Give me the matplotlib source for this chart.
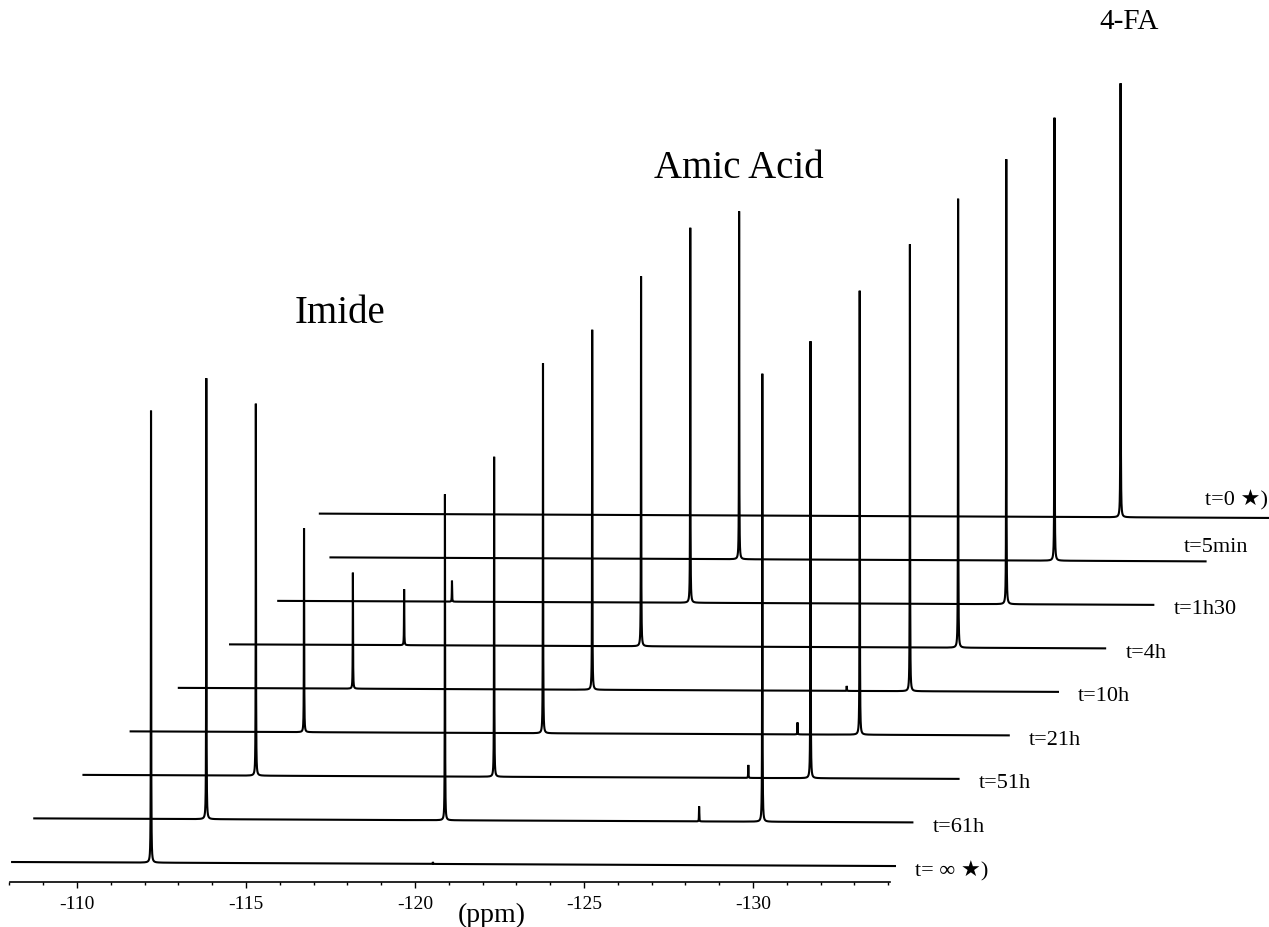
import numpy as np
import matplotlib.pyplot as plt

plt.rcParams['font.family'] = ['Liberation Serif', 'DejaVu Sans']
plt.rcParams['axes.unicode_minus'] = False

# stacked 19F spectra, bottom (t=inf) to top (t=0)
labels = ['t= \u221e \u2605)', 't=61h', 't=51h', 't=21h', 't=10h',
          't=4h', 't=1h30', 't=5min', 't=0 \u2605)']

# ppm window of each trace (own frame, before stacking shift)
ppm_start = [-108.08, -107.28, -107.28, -107.22, -107.19, -107.25, -107.22, -107.31, -105.54]
ppm_end = [-134.20, -133.26, -133.17, -133.20, -133.20, -133.14, -133.11, -133.20, -133.62]

# peak positions (ppm) and heights (a.u.)
imide_ppm = [-112.19, -112.37, -112.38, -112.35, -112.34, -112.40, -112.36, -112.37, -112.37]
imide_h = [452, 441, 372, 204, 116, 56, 21, 0, 0]
amic_ppm = [-120.53, -119.43, -119.43, -119.42, -119.42, -119.41, -119.41, -119.40, -119.40]
amic_h = [2, 326, 320, 370, 360, 370, 375, 348, 0]
fa_ppm = [-128.80, -128.82, -128.79, -128.79, -128.82, -128.79, -128.76, -128.73, -129.23]
fa_h = [0, 448, 437, 444, 447, 449, 445, 443, 434]
minor_ppm = [-126.95] * 9
minor_h = [0, 15, 13, 12, 5, 0, 0, 0, 0]

PX_PER_PPM = 33.8
DX = -49.2 / PX_PER_PPM   # stacking shift per trace (ppm)
DY = 43.5                 # stacking shift per trace (a.u.)
TILT = 0.154              # slight baseline slope
WIDTH = 0.005             # lorentzian half width (ppm)


def spectrum(x, centers, heights):
    y = np.zeros_like(x)
    for c, h in zip(centers, heights):
        y += h * WIDTH**2 / (WIDTH**2 + (x - c) ** 2)
    return y


fig = plt.figure(figsize=(12.69, 9.27), dpi=100)
ax = fig.add_axes([0, 0, 1, 1])
ax.set_xlim(-110 + 77 / PX_PER_PPM, -110 - 1192 / PX_PER_PPM)
ax.set_ylim(-65, 862)

for i in range(len(labels)):
    centers = [imide_ppm[i], amic_ppm[i], fa_ppm[i], minor_ppm[i]]
    heights = [imide_h[i], amic_h[i], fa_h[i], minor_h[i]]
    x = np.linspace(ppm_start[i], ppm_end[i], 20000)
    x = np.sort(np.concatenate([x, centers]))[::-1]
    y = spectrum(x, centers, heights) + TILT * (x + 108)
    ax.plot(x + i * DX, y + i * DY, color='black', lw=1.5, solid_joinstyle='miter')

    xe = ppm_end[i] + i * DX
    ye = TILT * (ppm_end[i] + 108) + i * DY
    if i < 7:
        ax.text(xe - 0.6, ye - 5, labels[i], fontsize=16, ha='left', va='center')
    elif i == 7:
        ax.text(xe - 1.27, ye + 14, labels[i], fontsize=16, ha='right', va='center')
    else:
        ax.text(xe + 0.03, ye + 18, labels[i], fontsize=16, ha='right', va='center')

ax.text(-117.78, 549, 'Imide', fontsize=28, ha='center', va='center')
ax.text(-129.59, 694, 'Amic Acid', fontsize=28, ha='center', va='center')
ax.text(-141.12, 840, '4-FA', fontsize=21, ha='center', va='center')
ax.text(-122.28, -53, '(ppm)', fontsize=20, ha='center', va='center')

# ppm axis
for s in ['top', 'left', 'right']:
    ax.spines[s].set_visible(False)
ax.spines['bottom'].set_position(('data', -20))
ax.spines['bottom'].set_bounds(-108.02, -134.05)
ax.spines['bottom'].set_linewidth(1.2)
ax.set_xticks([-110, -115, -120, -125, -130])
ax.set_xticks(np.arange(-108, -134.5, -1), minor=True)
ax.tick_params(axis='x', which='major', direction='out', length=4, width=1, labelsize=14, pad=6)
ax.tick_params(axis='x', which='minor', direction='out', length=2.5, width=1)
ax.set_yticks([])

fig.savefig('out.png', dpi=100)
